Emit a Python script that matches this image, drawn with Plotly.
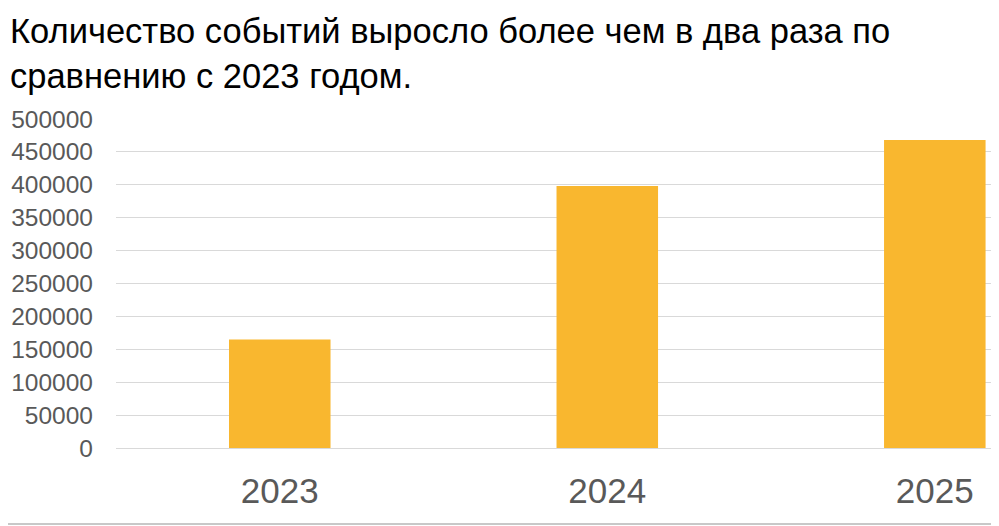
import plotly.graph_objects as go

# data
years = ["2023", "2024", "2025"]
events = [165000, 398000, 468000]
y_ticks = [0, 50000, 100000, 150000, 200000, 250000, 300000, 350000, 400000, 450000, 500000]

title_text = "Количество событий выросло более чем в два раза по<br>сравнению с 2023 годом."

# the page puts the figure 8px in from the corner, margins account for that
left, top, bottom, right = 108, 111, 86, 8
plot_w = 999 - left - right
plot_h = 526 - top - bottom

fig = go.Figure()

fig.add_trace(go.Bar(x=years, y=events,
                     marker_color="#F9B72F",
                     marker_line_width=0,
                     width=0.31,
                     showlegend=False))

fig.update_layout(
    width=999, height=526,
    margin=dict(l=left, r=right, t=top, b=bottom),
    paper_bgcolor="white",
    plot_bgcolor="white",
    font=dict(family="Liberation Sans, Arial, sans-serif", color="#595959"),
)

# title as a left-aligned annotation above the plot
fig.add_annotation(text=title_text,
                   xref="paper", yref="paper",
                   x=(0 - left) / plot_w, xanchor="left",
                   y=1 + (top - 2) / plot_h, yanchor="top",
                   align="left", showarrow=False,
                   font=dict(size=34.5, color="#000000"))

fig.update_xaxes(type="category",
                 range=[-0.5, 2.196],
                 automargin=False,
                 showgrid=False,
                 showline=False,
                 ticks="",
                 ticklabelstandoff=19,
                 tickfont=dict(size=35, color="#595959"))

fig.update_yaxes(range=[0, 500000],
                 automargin=False,
                 tickvals=y_ticks,
                 ticktext=[str(v) for v in y_ticks],
                 showgrid=True, gridcolor="#d9d9d9", gridwidth=1,
                 zeroline=True, zerolinecolor="#d9d9d9", zerolinewidth=1,
                 showline=False,
                 ticks="",
                 ticklabelstandoff=22,
                 tickfont=dict(size=24.5, color="#595959"))

# thin separator at the bottom of the picture
fig.add_shape(type="line", xref="paper", yref="paper",
              x0=(-8 - left) / plot_w, x1=1, y0=-76 / plot_h, y1=-76 / plot_h,
              line=dict(color="#c8c8c8", width=2))

fig.write_html("out.html")
